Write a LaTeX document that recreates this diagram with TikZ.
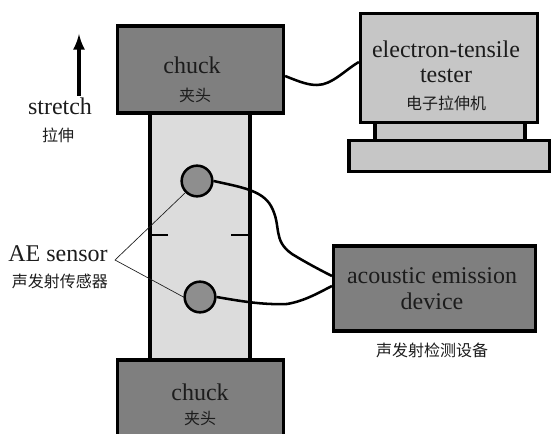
\documentclass[tikz,border=0pt]{standalone}
\usepackage{fontspec}
\setmainfont{Liberation Serif}
\newfontfamily\cjk{Noto Sans CJK SC}
\definecolor{chuckgray}{HTML}{7F7F7F}
\definecolor{specimengray}{HTML}{DCDCDC}
\definecolor{testergray}{HTML}{C6C6C6}
\definecolor{sensorgray}{HTML}{8E8E8E}
\definecolor{inkgray}{HTML}{1C1C1C}
\tikzset{
	boxed/.style = {draw = black, line width = 2.4pt, inner sep = 0pt},
	word/.style = {inner sep = 0pt, text = inkgray, font = \fontsize{18}{20}\selectfont},
	hanzi/.style = {inner sep = 0pt, text = inkgray, font = \cjk\fontsize{12}{14}\selectfont},
	wire/.style = {line width = 1.9pt, black},
	leader/.style = {line width = 0.5pt, inkgray},
	sensor/.style = {circle, draw = black, line width = 1.9pt, fill = sensorgray, minimum size = 23pt, inner sep = 0pt}
}
\begin{document}
\begin{tikzpicture}[> = latex, x = 0.75pt, y = -0.75pt]

	% Definition

	\def\L{0.75pt};

	\useasboundingbox (0, 0) rectangle (551, 434);
	\clip (0, 0) rectangle (551, 434);

	% The specimen and the chucks

	\node [boxed, fill = specimengray, minimum width = 100 * \L, minimum height = 250 * \L] (specimen) at (200, 236) {};
	\node [boxed, fill = chuckgray, minimum width = 166 * \L, minimum height = 87 * \L] (chuckTop) at (200.5, 69.5) {};
	\node [boxed, fill = chuckgray, minimum width = 166 * \L, minimum height = 84 * \L] (chuckBottom) at (200.5, 402) {};

	% The tester

	\node [boxed, fill = testergray, minimum width = 150 * \L, minimum height = 24 * \L] (testerNeck) at (450, 131) {};
	\node [boxed, fill = testergray, minimum width = 201 * \L, minimum height = 31 * \L] (testerBase) at (449.5, 156) {};
	\node [boxed, fill = testergray, minimum width = 177 * \L, minimum height = 109 * \L] (tester) at (449, 68) {};

	% The device

	\node [boxed, fill = chuckgray, minimum width = 202 * \L, minimum height = 85 * \L] (device) at (434.5, 288.5) {};

	% Gauge marks

	\coordinate (markLeft) at (168, 235);
	\coordinate (markRight) at (231, 235);
	\draw [line width = 1.9pt] (markLeft) -- (markLeft -| specimen.west);
	\draw [line width = 1.9pt] (markRight) -- (markRight -| specimen.east);

	% Sensors w/wires

	\node [sensor] (sensorTop) at (197, 181) {};
	\node [sensor] (sensorBottom) at (200, 297) {};

	\coordinate (testerIn) at (tester.west |- 0, 62);
	\coordinate (chuckOut) at (chuckTop.east |- 0, 76);
	\coordinate (deviceInA) at (device.west |- 0, 276);
	\coordinate (deviceInB) at (device.west |- 0, 286);

	\draw [wire] (chuckOut) .. controls (300, 82) and (308, 85) .. (317, 85) .. controls (332, 85) and (345, 70) .. (testerIn);
	\draw [wire] (sensorTop.east) .. controls (240, 187) and (262, 190) .. (271, 206) .. controls (282, 226) and (272, 240) .. (292, 254) .. controls (305, 262) and (320, 270) .. (deviceInA);
	\draw [wire] (sensorBottom.east) .. controls (240, 301) and (262, 305) .. (287, 304) .. controls (305, 301) and (320, 292) .. (deviceInB);

	% Labels

	\node [word] (chuckTopText) at (192, 65) {chuck};
	\node [hanzi] (chuckTopHan) at (195, 95) {夹头};
	\node [word] (chuckBottomText) at (200, 392) {chuck};
	\node [hanzi] (chuckBottomHan) at (200, 418) {夹头};
	\node [word] (testerTextA) at (446, 49) {electron-tensile};
	\node [word] (testerTextB) at (446, 76) {tester};
	\node [hanzi] (testerHan) at (446, 103) {电子拉伸机};
	\node [word] (deviceTextA) at (432, 276) {acoustic emission};
	\node [word] (deviceTextB) at (432, 301) {device};
	\node [hanzi] (deviceHan) at (432, 350) {声发射检测设备};

	% Stretch

	\node [word] (stretchText) at (60, 106) {stretch};
	\node [hanzi] (stretchHan) at (58, 135) {拉伸};
	\coordinate (stretchTail) at (79, 96);
	\coordinate (stretchHead) at (79, 34);
	\draw [->, line width = 3pt, black] (stretchTail) -- (stretchHead);

	% AE sensor

	\node [word] (aeText) at (58, 254) {AE sensor};
	\node [hanzi] (aeHan) at (60, 281) {声发射传感器};
	\coordinate (aeTip) at (115, 260);
	\draw [leader] (sensorTop.225) -- (aeTip) -- (sensorBottom.180);

\end{tikzpicture}
\end{document}
